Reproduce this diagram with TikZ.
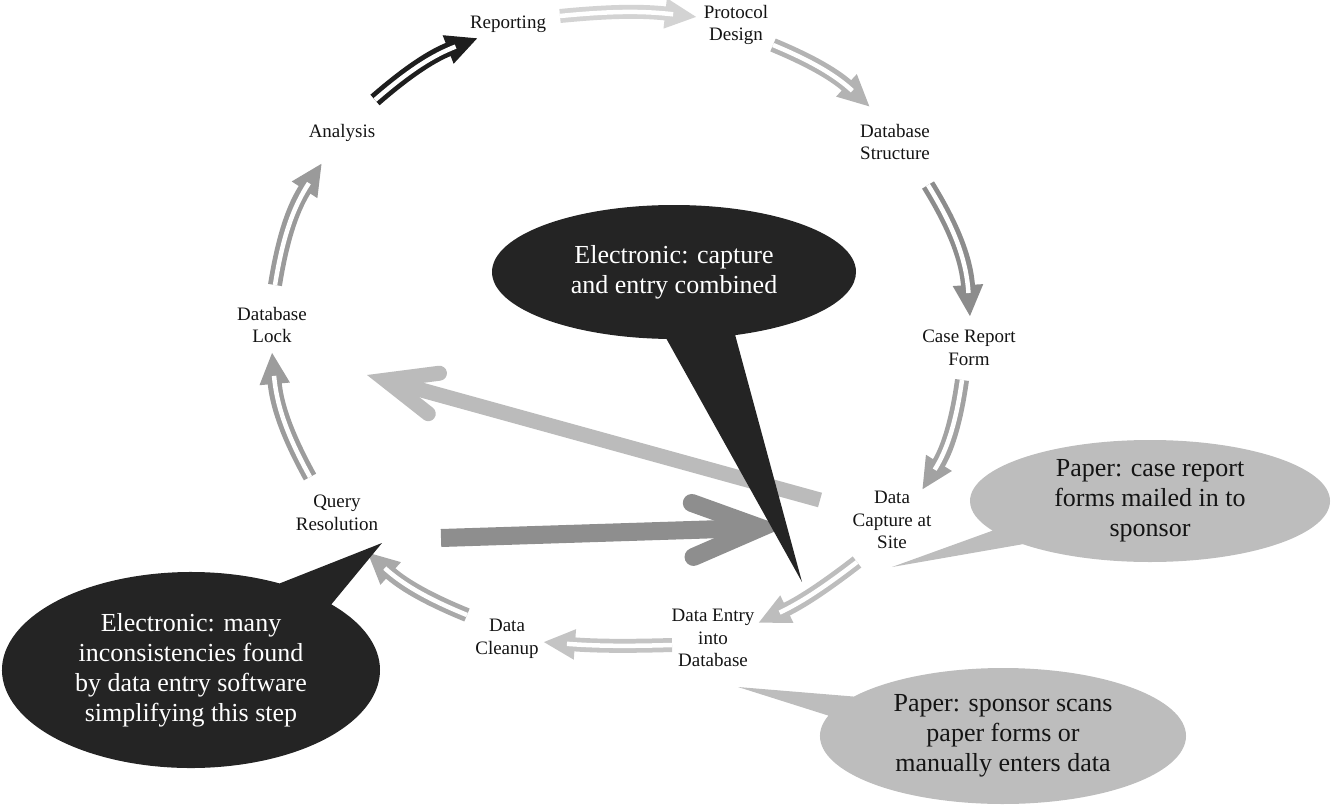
\documentclass[tikz,border=0pt]{standalone}
\usepackage{fontspec}
\setmainfont{Liberation Serif}
\usetikzlibrary{arrows.meta,shapes.callouts}
\definecolor{ink}{HTML}{141414}
\definecolor{darkfill}{HTML}{242424}
\definecolor{lightfill}{HTML}{BDBDBD}
\definecolor{cA}{HTML}{1E1E1E}
\definecolor{cB}{HTML}{D3D3D3}
\definecolor{cC}{HTML}{B3B3B3}
\definecolor{cD}{HTML}{8C8C8C}
\definecolor{cE}{HTML}{A2A2A2}
\definecolor{cF}{HTML}{BDBDBD}
\definecolor{cG}{HTML}{C4C4C4}
\definecolor{cH}{HTML}{A9A9A9}
\definecolor{cI}{HTML}{9C9C9C}
\definecolor{cJ}{HTML}{9A9A9A}
\definecolor{bigL}{HTML}{BBBBBB}
\definecolor{bigD}{HTML}{8E8E8E}
\begin{document}
\begin{tikzpicture}[x=1pt,y=-1pt,
  lbl/.style={font=\fontsize{19}{22.5}\selectfont, align=center, inner sep=1pt, text=ink},
  dblarrow/.style={draw=#1, line width=14pt,
    -{Triangle[length=32pt,width=28pt]},
    postaction={draw=white, line width=4.5pt, -, shorten >=24pt}},
  bubble/.style={ellipse callout, inner xsep=0pt, inner ysep=-4pt, align=center,
    font=\fontsize{26}{30}\selectfont},
  darkbubble/.style={bubble, fill=darkfill, text=white},
  lightbubble/.style={bubble, fill=lightfill, text=ink}]
\useasboundingbox (0,0) rectangle (1337,808);

% step labels
\node[lbl] (rep)  at (508,24)  {Reporting};
\node[lbl] (prot) at (736,25)  {Protocol\\Design};
\node[lbl] (dbs)  at (895,142) {Database\\Structure};
\node[lbl] (crf)  at (969,348) {Case Report\\Form};
\node[lbl] (dcs)  at (892,520) {Data\\Capture at\\Site};
\node[lbl] (dei)  at (713,638) {Data Entry\\into\\Database};
\node[lbl] (dcl)  at (507,639) {Data\\Cleanup};
\node[lbl] (qr)   at (337,513) {Query\\Resolution};
\node[lbl] (lock) at (272,325) {Database\\Lock};
\node[lbl] (ana)  at (342,133) {Analysis};

% cycle arrows
\draw[dblarrow=cA] ([shift={(33,-33)}]ana.center) to[bend left=10] ([shift={(-30,14)}]rep.center);
\draw[dblarrow=cB] ([shift={(-40,-8)}]rep.center) ++(92,0) to[bend left=6] ([shift={(-39,-8)}]prot.center);
\draw[dblarrow=cC] ([shift={(37,20)}]prot.center) to[bend left=10] ([shift={(-25,-35)}]dbs.center);
\draw[dblarrow=cD] ([shift={(33,43)}]dbs.center) to[bend left=14] ([shift={(1,-31)}]crf.center);
\draw[dblarrow=cE] ([shift={(-7,32)}]crf.center) to[bend left=12] ([shift={(30,-30)}]dcs.center);
\draw[dblarrow=cF] ([shift={(-35,42)}]dcs.center) to[bend left=6] ([shift={(45,-15)}]dei.center);
\draw[dblarrow=cG] ([shift={(-41,7)}]dei.center) to[bend left=3] ([shift={(36,3)}]dcl.center);
\draw[dblarrow=cH] ([shift={(-40,-24)}]dcl.center) to[bend left=10] ([shift={(30,39)}]qr.center);
\draw[dblarrow=cI] ([shift={(-27,-36)}]qr.center) to[bend left=12] ([shift={(0,27)}]lock.center);
\draw[dblarrow=cJ] ([shift={(3,-40)}]lock.center) to[bend left=12] ([shift={(-20,30)}]ana.center);

% shortcut arrows
\draw[draw=bigL, line width=15pt,
  -{Straight Barb[line cap=round, line join=miter, length=50pt, width=42pt]}]
  ([shift={(-72,-20)}]dcs.center) -- ([shift={(95,50)}]lock.center);
\draw[draw=bigD, line width=18pt,
  -{Straight Barb[line cap=round, line join=miter, length=68pt, width=54pt]}]
  ([shift={(104,25)}]qr.center) -- ([shift={(72,-111)}]dei.center);

% callouts
\node[darkbubble, minimum width=364pt, minimum height=134pt,
  callout absolute pointer={(802,582)}, callout pointer arc=22] (e1) at (674,272)
  {Electronic: capture\\and entry combined};
\node[lightbubble, minimum width=360pt, minimum height=122pt,
  callout absolute pointer={(892,567)}, callout pointer arc=16] (p1) at (1150,501)
  {Paper: case report\\forms mailed in to\\sponsor};
\node[lightbubble, minimum width=366pt, minimum height=136pt,
  callout absolute pointer={(738,687)}, callout pointer arc=18] (p2) at (1003,736)
  {Paper: sponsor scans\\paper forms or\\manually enters data};
\node[darkbubble, minimum width=378pt, minimum height=196pt,
  callout absolute pointer={(382,543)}, callout pointer arc=20] (e2) at (191,670)
  {Electronic: many\\inconsistencies found\\by data entry software\\simplifying this step};
\end{tikzpicture}
\end{document}
